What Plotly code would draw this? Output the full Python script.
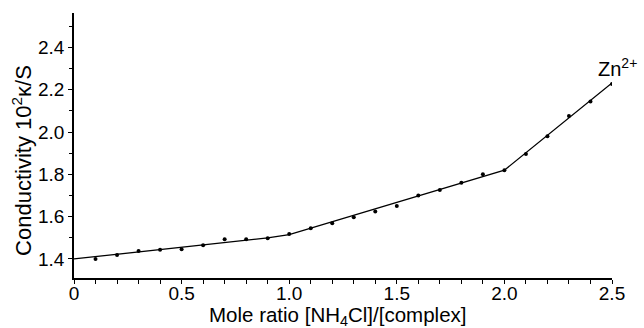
import plotly.graph_objects as go

# measured points (mole ratio, conductivity 10^2 kappa/S)
ratio = [0.1, 0.2, 0.3, 0.4, 0.5, 0.6, 0.7, 0.8, 0.9, 1.0,
         1.1, 1.2, 1.3, 1.4, 1.5, 1.6, 1.7, 1.8, 1.9, 2.0,
         2.1, 2.2, 2.3, 2.4, 2.5]
conductivity = [1.400, 1.419, 1.438, 1.443, 1.446, 1.465, 1.493, 1.493, 1.498, 1.518,
                1.545, 1.569, 1.597, 1.624, 1.650, 1.700, 1.726, 1.760, 1.800, 1.820,
                1.896, 1.980, 2.076, 2.144, 2.227]

# fitted line segments
fit_x = [0.0, 0.9, 1.0, 2.0, 2.5]
fit_y = [1.400, 1.500, 1.515, 1.820, 2.232]

x_ticks = [0, 0.5, 1.0, 1.5, 2.0, 2.5]
x_ticklabels = ["0", "0.5", "1.0", "1.5", "2.0", "2.5"]
y_ticks = [1.4, 1.6, 1.8, 2.0, 2.2, 2.4]
y_ticklabels = ["1.4", "1.6", "1.8", "2.0", "2.2", "2.4"]

x_title = "Mole ratio [NH<sub>4</sub>Cl]/[complex]"
y_title = "Conductivity 10<sup>2</sup>κ/S"
series_label = "Zn<sup>2+</sup>"

font_family = "Liberation Sans, Arial, sans-serif"

fig = go.Figure()
fig.add_trace(go.Scatter(x=fit_x, y=fit_y, mode="lines",
                         line=dict(color="black", width=1.3),
                         showlegend=False, hoverinfo="skip"))
fig.add_trace(go.Scatter(x=ratio, y=conductivity, mode="markers",
                         marker=dict(color="black", size=4),
                         showlegend=False))

fig.add_annotation(x=1.011, y=0.795, xref="paper", yref="paper",
                   text=series_label, showarrow=False,
                   xanchor="center", yanchor="middle",
                   font=dict(size=20, color="black", family=font_family))
fig.add_annotation(x=0.489, y=-0.145, xref="paper", yref="paper",
                   text=x_title, showarrow=False,
                   xanchor="center", yanchor="middle",
                   font=dict(size=20.5, color="black", family=font_family))
fig.add_annotation(x=-0.097, y=0.445, xref="paper", yref="paper",
                   text=y_title, showarrow=False, textangle=-90,
                   xanchor="center", yanchor="middle",
                   font=dict(size=22, color="black", family=font_family))

fig.update_layout(
    width=644, height=328,
    margin=dict(l=74, r=32, t=13, b=50),
    paper_bgcolor="white", plot_bgcolor="white",
    font=dict(family=font_family, color="black"),
    xaxis=dict(
        range=[0, 2.5], tickvals=x_ticks, ticktext=x_ticklabels,
        showgrid=False, zeroline=False, showline=True, automargin=False,
        linecolor="black", linewidth=1.5,
        ticks="outside", ticklen=4, tickwidth=1.2, tickcolor="black",
        ticklabelstandoff=-7,
        tickfont=dict(size=19),
        minor=dict(dtick=0.1, tick0=0, ticks="outside", ticklen=4,
                   tickwidth=1.2, tickcolor="black", showgrid=False),
    ),
    yaxis=dict(
        range=[1.31, 2.563], tickvals=y_ticks, ticktext=y_ticklabels,
        showgrid=False, zeroline=False, showline=True, automargin=False,
        linecolor="black", linewidth=1.5,
        ticks="outside", ticklen=4, tickwidth=1.2, tickcolor="black",
        tickfont=dict(size=19),
        minor=dict(dtick=0.1, tick0=1.4, ticks="outside", ticklen=3,
                   tickwidth=1.2, tickcolor="black", showgrid=False),
    ),
)

fig.write_html("out.html", config={"displayModeBar": False},
               post_script="document.body.style.margin='0';document.body.style.overflow='hidden';")
